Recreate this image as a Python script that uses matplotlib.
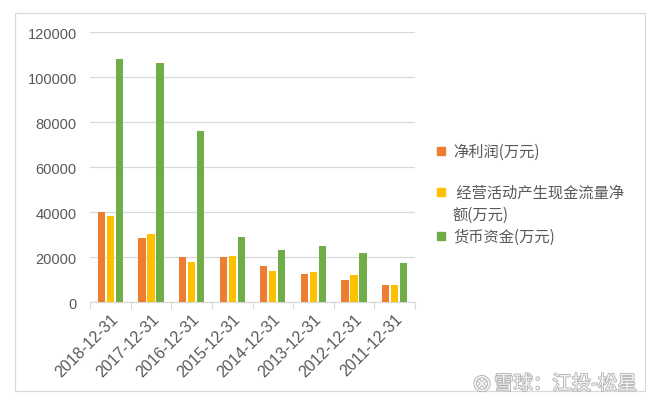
import matplotlib
matplotlib.use("Agg")
import matplotlib.pyplot as plt
import matplotlib.patheffects as pe
import numpy as np
from matplotlib.patches import Rectangle

FAM = ['Liberation Sans', 'Noto Sans CJK SC', 'DejaVu Sans']
plt.rcParams['font.family'] = FAM

categories = ["2018-12-31", "2017-12-31", "2016-12-31", "2015-12-31",
              "2014-12-31", "2013-12-31", "2012-12-31", "2011-12-31"]
net_profit = [40200, 28400, 20300, 20100, 16100, 12700, 9900, 7500]
op_cash = [38500, 30400, 17900, 20600, 13900, 13300, 12000, 7800]
cash = [108100, 106200, 76000, 28900, 23400, 24900, 21800, 17600]
series_names = ["净利润(万元)", "经营活动产生现金流量净额(万元)", "货币资金(万元)"]
colors = ["#ED7D31", "#FFC000", "#70AD47"]

fig = plt.figure(figsize=(6.6, 4.06), dpi=100)
W, H = 660, 406
ax = fig.add_axes([90 / W, 1 - 303.3 / H, 325 / W, 270 / H])

x = np.arange(len(categories))
pitch = 0.222
bw = 0.18
for i, (vals, c) in enumerate(zip([net_profit, op_cash, cash], colors)):
    ax.bar(x + (i - 1) * pitch, vals, width=bw, color=c, label=series_names[i], zorder=3)

ax.set_xlim(-0.5, len(categories) - 0.5)
ax.set_ylim(0, 120000)
ax.set_yticks(range(0, 120001, 20000))
ax.yaxis.grid(True, color="#D9D9D9", linewidth=0.9, zorder=0)
for s in ["top", "right", "left"]:
    ax.spines[s].set_visible(False)
ax.spines["bottom"].set_color("#D9D9D9")
ax.spines["bottom"].set_linewidth(0.9)
ax.tick_params(axis="y", length=0, labelsize=10.5, labelcolor="#595959", pad=9.5)
ax.set_xticks(np.arange(-0.5, len(categories), 1.0), minor=False)
ax.set_xticklabels([])
ax.tick_params(axis="x", which="major", length=5, color="#D9D9D9", direction="out")
ax.set_xticks(x, minor=True)
ax.set_xticklabels(categories, minor=True, rotation=45, ha="right",
                   rotation_mode="anchor", fontsize=11.5, color="#595959")
ax.tick_params(axis="x", which="minor", length=0, pad=6)

# outer border
fig.patches.append(Rectangle((15 / W, 1 - 392 / H), (645 - 15) / W, (392 - 14) / H,
                             transform=fig.transFigure, fill=False,
                             edgecolor="#D9D9D9", linewidth=0.9))

# legend (manual)
leg_items = [(152, ["净利润(万元)"]),
             (193, [" 经营活动产生现金流量净", "额(万元)"]),
             (237, ["货币资金(万元)"])]
for (yy, lines), c in zip(leg_items, colors):
    fig.patches.append(Rectangle((437 / W, 1 - (yy + 4) / H), 8 / W, 8 / H,
                                 transform=fig.transFigure, color=c))
    for k, t in enumerate(lines):
        xx = 453 if k == 0 else 452
        fig.text(xx / W, 1 - (yy + k * 22) / H, t, fontsize=11, color="#595959",
                 va="center", ha="left", family=['Noto Sans CJK SC', 'DejaVu Sans'])

# watermark
wm_fx = [pe.withStroke(linewidth=1.2, foreground="#B0B0B0")]
fig.text(482 / W, 1 - 385 / H, "⊗", fontsize=17, color="#F4F4F4",
         ha="center", va="center", family=['DejaVu Sans'], path_effects=wm_fx)
fig.text(494 / W, 1 - 385 / H, "雪球：江投-松星", fontsize=14, color="#F4F4F4",
         ha="left", va="center", family=['Noto Sans CJK SC', 'DejaVu Sans'],
         path_effects=wm_fx)

fig.savefig("out.png", dpi=100)
